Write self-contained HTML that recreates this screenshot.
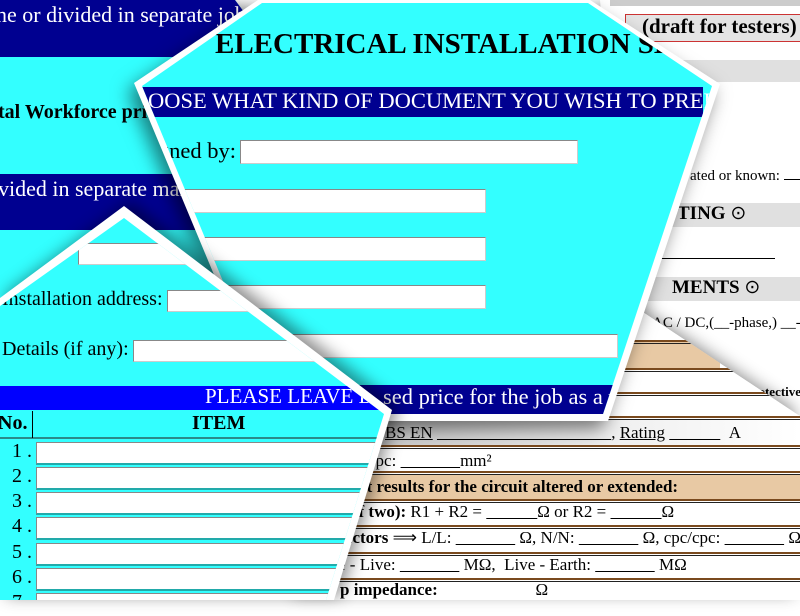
<!DOCTYPE html>
<html><head><meta charset="utf-8"><style>
*{margin:0;padding:0;box-sizing:border-box}
body{width:800px;height:600px;overflow:hidden;background:#fff;position:relative;font-family:"Liberation Serif",serif}
.w{position:absolute;left:0;top:0;width:800px;height:600px}
.p{position:absolute;left:0;top:0;width:800px;height:600px}
.a{position:absolute;white-space:nowrap}
.inp{position:absolute;background:#fff;border:1px solid #888;border-right-color:#ccc;border-bottom-color:#ccc}
.nav{position:absolute;background:#000090;color:#fff}
.gb{position:absolute;background:#e0e0e0}
.ln{position:absolute;height:4px;border-top:2px solid #7a4a1e;border-bottom:1px solid #222}
</style></head><body>

<!-- right grey doc -->
<div class="w" style="filter:drop-shadow(-6px 6px 8px rgba(0,0,0,.45))">
<div class="p" style="background:#fff;clip-path:polygon(590px 0,800px 0,800px 416px,625px 300px,600px 0)">
  <div class="a" style="left:610px;top:0;width:190px;height:6px;background:#ccc"></div>
  <div class="a" style="left:625px;top:14px;width:180px;height:28px;border:1px solid #c33;background:#e4e4e4"></div>
  <div class="a" style="left:642px;top:14px;font-weight:bold;font-size:21px">(draft for testers)</div>
  <div class="gb" style="left:640px;top:60px;width:160px;height:22px"></div>
  <div class="a" style="left:690px;top:168px;font-size:15px">ated or known: <span style="display:inline-block;width:40px;border-bottom:1px solid #000"></span></div>
  <div class="gb" style="left:640px;top:203px;width:160px;height:24px"></div>
  <div class="a" style="left:677px;top:202px;font-weight:bold;font-size:19px">TING <span style="font-weight:normal">&#x2299;</span></div>
  <div class="a" style="left:655px;top:258px;width:120px;border-top:1px solid #000"></div>
  <div class="gb" style="left:640px;top:277px;width:160px;height:24px"></div>
  <div class="a" style="left:672px;top:276px;font-weight:bold;font-size:19px">MENTS <span style="font-weight:normal">&#x2299;</span></div>
  <div class="a" style="left:652px;top:315px;font-size:15px">AC / DC,(__-phase,) __-wire</div>
  <div class="a" style="left:745px;top:384px;font-weight:bold;font-size:13px">Protective</div>
</div></div>

<!-- bottom-right doc -->
<div class="w" style="filter:drop-shadow(-6px -6px 8px rgba(0,0,0,.45))">
<div class="p" style="background:linear-gradient(100deg,#bbb 0,#fff 220px);clip-path:polygon(300px 300px,625px 300px,800px 416px,800px 600px,300px 600px);font-size:17px">
  <div class="a" style="left:600px;top:340px;width:120px;height:30px;background:#e8c9a4"></div>
  <div class="ln" style="left:300px;top:340px;width:500px"></div>
  <div class="ln" style="left:300px;top:368px;width:500px"></div>
  <div class="ln" style="left:300px;top:392px;width:500px"></div>
  <div class="ln" style="left:300px;top:416px;width:500px"></div>
  <div class="a" style="left:300px;top:420px;width:500px;height:25px;background:linear-gradient(90deg,#bbb,#eee 300px,#fff)"></div>
  <div class="ln" style="left:300px;top:445px;width:500px"></div>
  <div class="ln" style="left:300px;top:471px;width:500px"></div>
  <div class="a" style="left:300px;top:475px;width:500px;height:25px;background:#e8c9a4"></div>
  <div class="ln" style="left:300px;top:499px;width:500px"></div>
  <div class="ln" style="left:300px;top:525px;width:500px"></div>
  <div class="ln" style="left:300px;top:552px;width:500px"></div>
  <div class="ln" style="left:300px;top:578px;width:500px"></div>
  <div class="a" style="left:376px;top:423px">: <u>BS EN</u> <u>&nbsp;&nbsp;&nbsp;&nbsp;&nbsp;&nbsp;&nbsp;&nbsp;&nbsp;&nbsp;&nbsp;&nbsp;&nbsp;&nbsp;&nbsp;&nbsp;&nbsp;&nbsp;&nbsp;&nbsp;&nbsp;&nbsp;&nbsp;&nbsp;&nbsp;&nbsp;&nbsp;&nbsp;&nbsp;&nbsp;&nbsp;&nbsp;&nbsp;&nbsp;&nbsp;&nbsp;&nbsp;&nbsp;&nbsp;&nbsp;&nbsp;</u>, <u>Rating</u> <u>&nbsp;&nbsp;&nbsp;&nbsp;&nbsp;&nbsp;&nbsp;&nbsp;&nbsp;&nbsp;&nbsp;&nbsp;</u>&nbsp;&nbsp;A</div>
  <div class="a" style="left:368px;top:451px">cpc: <u>&nbsp;&nbsp;&nbsp;&nbsp;&nbsp;&nbsp;&nbsp;&nbsp;&nbsp;&nbsp;&nbsp;&nbsp;&nbsp;&nbsp;</u>mm²</div>
  <div class="a" style="left:360px;top:477px;font-weight:bold">st results for the circuit altered or extended:</div>
  <div class="a" style="left:350px;top:502px"><b>of two):</b> R1 + R2 = <u>&nbsp;&nbsp;&nbsp;&nbsp;&nbsp;&nbsp;&nbsp;&nbsp;&nbsp;&nbsp;&nbsp;&nbsp;</u>Ω or R2 = <u>&nbsp;&nbsp;&nbsp;&nbsp;&nbsp;&nbsp;&nbsp;&nbsp;&nbsp;&nbsp;&nbsp;&nbsp;</u>Ω</div>
  <div class="a" style="left:343px;top:528px"><b>uctors</b> ⟹ L/L: <u>&nbsp;&nbsp;&nbsp;&nbsp;&nbsp;&nbsp;&nbsp;&nbsp;&nbsp;&nbsp;&nbsp;&nbsp;&nbsp;&nbsp;</u> Ω, N/N: <u>&nbsp;&nbsp;&nbsp;&nbsp;&nbsp;&nbsp;&nbsp;&nbsp;&nbsp;&nbsp;&nbsp;&nbsp;&nbsp;&nbsp;</u> Ω, cpc/cpc: <u>&nbsp;&nbsp;&nbsp;&nbsp;&nbsp;&nbsp;&nbsp;&nbsp;&nbsp;&nbsp;&nbsp;&nbsp;&nbsp;&nbsp;</u> Ω</div>
  <div class="a" style="left:338px;top:555px">e - Live: <u>&nbsp;&nbsp;&nbsp;&nbsp;&nbsp;&nbsp;&nbsp;&nbsp;&nbsp;&nbsp;&nbsp;&nbsp;&nbsp;&nbsp;</u> MΩ,&nbsp; Live - Earth: <u>&nbsp;&nbsp;&nbsp;&nbsp;&nbsp;&nbsp;&nbsp;&nbsp;&nbsp;&nbsp;&nbsp;&nbsp;&nbsp;&nbsp;</u> MΩ</div>
  <div class="a" style="left:340px;top:580px"><b>p impedance:</b>&nbsp;&nbsp;&nbsp;&nbsp;&nbsp;&nbsp;&nbsp;&nbsp;&nbsp;&nbsp;&nbsp;&nbsp;&nbsp;&nbsp;&nbsp;&nbsp;&nbsp;&nbsp;&nbsp;&nbsp;&nbsp;&nbsp;&nbsp;Ω</div>
</div></div>

<!-- top-left doc -->
<div class="w" style="filter:drop-shadow(6px 6px 8px rgba(0,0,0,.45))">
<div class="p" style="background:#33ffff;clip-path:polygon(0 0,235px 0,250px 20px,250px 300px,0 300px);font-size:22px">
  <div class="nav" style="left:0;top:0;width:260px;height:57px"></div>
  <div class="a" style="left:-4px;top:2px;color:#fff">ne or divided in separate jobs</div>
  <div class="a" style="left:-2px;top:101px;font-weight:bold;font-size:20px">tal Workforce price</div>
  <div class="nav" style="left:0;top:174px;width:260px;height:56px"></div>
  <div class="a" style="left:-2px;top:176px;color:#fff">vided in separate man</div>
</div></div>

<!-- center doc -->
<div class="w" style="filter:drop-shadow(-6px 8px 9px rgba(0,0,0,.5))">
<div class="p" style="background:#fff;clip-path:polygon(258px 0,590px 0,720px 84px,608px 421px,275px 421px,134px 83px)">
<div class="p" style="background:#33ffff;clip-path:polygon(262px 3px,588px 3px,712px 86px,603px 414px,278px 414px,142px 86px);font-size:22.5px">
  <div class="a" style="left:215px;top:28px;font-weight:bold;font-size:29px">ELECTRICAL INSTALLATION SERVICES</div>
  <div class="nav" style="left:140px;top:87px;width:563px;height:30px"></div>
  <div class="a" style="left:148px;top:88px;color:#fff">OOSE WHAT KIND OF DOCUMENT YOU WISH TO PREPARE</div>
  <div class="a" style="left:0;top:138px;width:236px;text-align:right">Signed by:</div>
  <div class="inp" style="left:240px;top:140px;width:338px;height:24px"></div>
  <div class="inp" style="left:150px;top:189px;width:336px;height:24px"></div>
  <div class="inp" style="left:150px;top:237px;width:336px;height:24px"></div>
  <div class="inp" style="left:150px;top:285px;width:336px;height:24px"></div>
  <div class="inp" style="left:200px;top:334px;width:418px;height:24px"></div>
  <div class="nav" style="left:200px;top:385px;width:420px;height:30px"></div>
  <div class="a" style="left:383px;top:384px;color:#fff">sed price for the job as a whole</div>
</div></div></div>

<!-- bottom-left doc -->
<div class="w" style="filter:drop-shadow(6px -4px 8px rgba(0,0,0,.45))">
<div class="p" style="background:#fff;clip-path:polygon(124px 206px,392px 410px,334px 600px,0 600px,0 298px)">
<div class="p" style="background:#33ffff;clip-path:polygon(124px 218px,384px 414px,326px 600px,0 600px,0 306px);font-size:20px">
  <div class="inp" style="left:78px;top:243px;width:200px;height:22px"></div>
  <div class="a" style="left:2px;top:288px">Installation address:</div>
  <div class="inp" style="left:167px;top:290px;width:200px;height:22px"></div>
  <div class="a" style="left:2px;top:338px">Details (if any):</div>
  <div class="inp" style="left:133px;top:340px;width:250px;height:22px"></div>
  <div class="a" style="left:0;top:386px;width:400px;height:24px;background:#0000ff"></div>
  <div class="a" style="left:205px;top:384px;color:#fff;font-size:21px">PLEASE LEAVE BLANK</div>
  <div class="a" style="left:0;top:410px;width:400px;height:29px;border-bottom:2px solid #2a8a8a"></div>
  <div class="a" style="left:32px;top:411px;height:27px;border-left:1px solid #000"></div>
  <div class="a" style="left:-2px;top:412px;font-weight:bold">No.</div>
  <div class="a" style="left:192px;top:412px;font-weight:bold">ITEM</div>
  <div class="a" style="left:12px;top:440px">1 .</div><div class="inp" style="left:36px;top:442px;width:340px;height:23px;border-bottom:2px solid #2aa"></div>
  <div class="a" style="left:12px;top:465px">2 .</div><div class="inp" style="left:36px;top:467px;width:340px;height:23px;border-bottom:2px solid #2aa"></div>
  <div class="a" style="left:12px;top:490px">3 .</div><div class="inp" style="left:36px;top:492px;width:340px;height:23px;border-bottom:2px solid #2aa"></div>
  <div class="a" style="left:12px;top:515px">4 .</div><div class="inp" style="left:36px;top:517px;width:340px;height:23px;border-bottom:2px solid #2aa"></div>
  <div class="a" style="left:12px;top:541px">5 .</div><div class="inp" style="left:36px;top:543px;width:340px;height:23px;border-bottom:2px solid #2aa"></div>
  <div class="a" style="left:12px;top:566px">6 .</div><div class="inp" style="left:36px;top:568px;width:340px;height:23px;border-bottom:2px solid #2aa"></div>
  <div class="a" style="left:12px;top:591px">7 .</div><div class="inp" style="left:36px;top:593px;width:340px;height:23px"></div>
</div></div></div>

</body></html>
